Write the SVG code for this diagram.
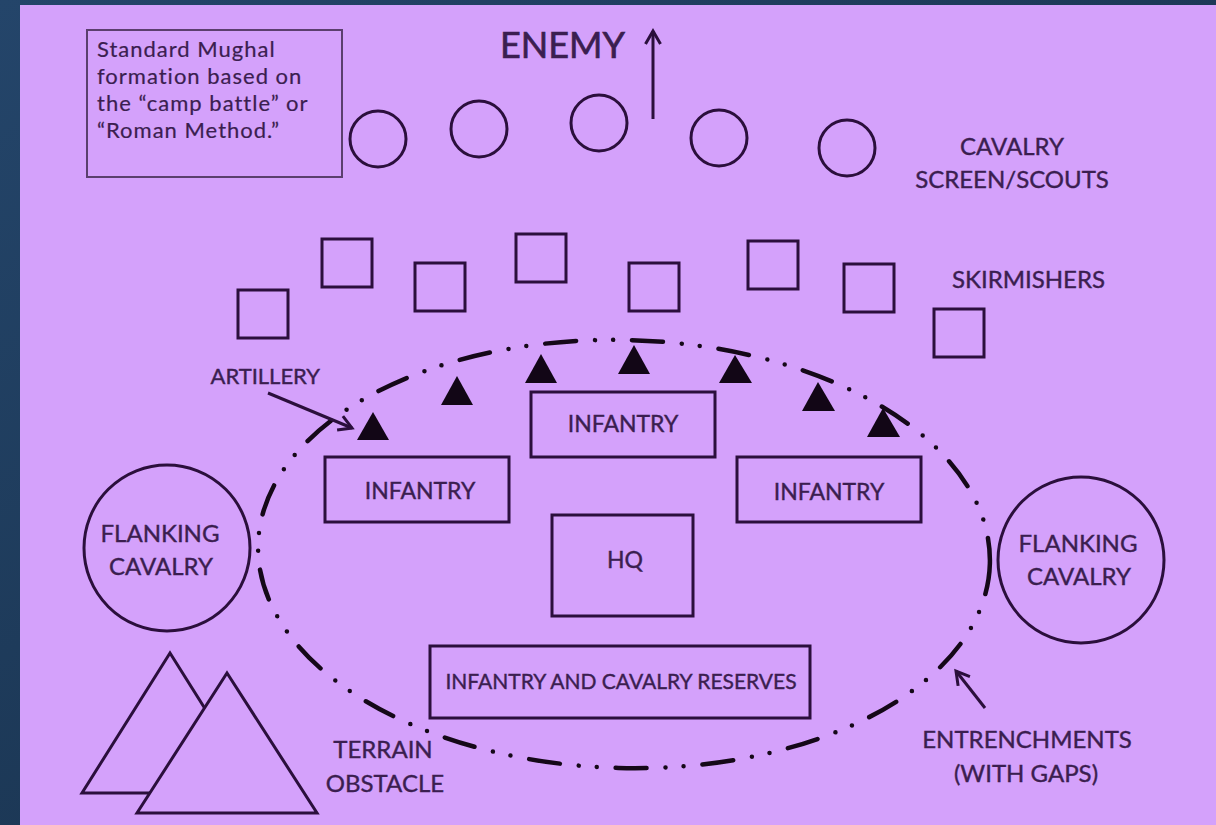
<svg xmlns="http://www.w3.org/2000/svg" width="1216" height="825" viewBox="0 0 1216 825">
<defs>
<linearGradient id="bg" x1="0" y1="0" x2="1" y2="1">
<stop offset="0" stop-color="#24456a"/>
<stop offset="1" stop-color="#152c44"/>
</linearGradient>
<marker id="ah" markerUnits="userSpaceOnUse" markerWidth="24" markerHeight="24" refX="16" refY="12" orient="auto" viewBox="0 0 24 24">
<path d="M3,4.5 L16,12 L3,19.5" fill="none" stroke="#2b0f3c" stroke-width="3"/>
</marker>
</defs>
<style>
.t{font-family:Lato,'Open Sans','Liberation Sans',sans-serif;fill:#3b1e50;stroke:#3b1e50;stroke-width:0.4;font-size:24px}
.c{text-anchor:middle}
.s{fill:none;stroke:#2b0f3c;stroke-width:3}
.sf{fill:#d4a1fb;stroke:#2b0f3c;stroke-width:3}
.tri{fill:#120616}
.ent{fill:none;stroke:#150818;stroke-width:4.5;stroke-linecap:round;stroke-dasharray:31 19 0 18 0 19}
.ar{fill:none;stroke:#2b0f3c;stroke-width:3;marker-end:url(#ah)}
</style>
<rect width="1216" height="825" fill="url(#bg)"/>
<rect x="20" y="5" width="1196" height="820" fill="#d4a1fb"/>

<g id="note">
<rect x="87" y="30" width="255" height="147" fill="none" stroke="#5b3f6e" stroke-width="2"/>
<text class="t" x="97" y="57" style="font-size:22px;letter-spacing:1px;stroke-width:0.2">Standard Mughal</text>
<text class="t" x="97" y="84" style="font-size:22px;letter-spacing:1px;stroke-width:0.2">formation based on</text>
<text class="t" x="97" y="111" style="font-size:22px;letter-spacing:1px;stroke-width:0.2">the “camp battle” or</text>
<text class="t" x="97" y="138" style="font-size:22px;letter-spacing:1px;stroke-width:0.2">“Roman Method.”</text>
</g>

<g id="enemy">
<text class="t" x="500" y="58" style="font-size:36px;stroke-width:0.7">ENEMY</text>
</g>

<g id="cavalry-screen">
<circle class="s" cx="378" cy="139" r="28"/>
<circle class="s" cx="479" cy="129" r="28"/>
<circle class="s" cx="599" cy="123" r="28"/>
<circle class="s" cx="719" cy="138" r="28"/>
<circle class="s" cx="847" cy="148" r="28"/>
<text class="t c" x="1012" y="155">CAVALRY</text>
<text class="t c" x="1012" y="188">SCREEN/SCOUTS</text>
</g>

<g id="skirmishers">
<rect class="s" x="238" y="290" width="50" height="48"/>
<rect class="s" x="322" y="239" width="50" height="48"/>
<rect class="s" x="415" y="263" width="50" height="48"/>
<rect class="s" x="516" y="234" width="50" height="48"/>
<rect class="s" x="629" y="263" width="50" height="48"/>
<rect class="s" x="748" y="241" width="50" height="48"/>
<rect class="s" x="844" y="264" width="50" height="48"/>
<rect class="s" x="934" y="309" width="50" height="48"/>
<text class="t" x="952" y="288">SKIRMISHERS</text>
</g>

<g id="entrenchments">
<ellipse class="ent" cx="624" cy="554" rx="366" ry="214" transform="rotate(1.5 624 554)"/>
<text class="t c" x="1027" y="748">ENTRENCHMENTS</text>
<text class="t c" x="1026" y="782">(WITH GAPS)</text>
</g>

<g id="artillery">
<polygon class="tri" points="373,412 357,440 389,440"/>
<polygon class="tri" points="457,376 441,405 473,405"/>
<polygon class="tri" points="541,354 525,383 557,383"/>
<polygon class="tri" points="634,345 618,374 650,374"/>
<polygon class="tri" points="735,355 719,383 752,383"/>
<polygon class="tri" points="818,382 802,411 835,411"/>
<polygon class="tri" points="883,408 867,437 900,437"/>
<text class="t" x="320" y="384" text-anchor="end" style="font-size:22px">ARTILLERY</text>
</g>

<g id="infantry-center">
<rect class="s" x="531" y="392" width="184" height="65"/>
<text class="t c" x="623" y="432" style="font-size:23px">INFANTRY</text>
</g>
<g id="infantry-left">
<rect class="s" x="325" y="457" width="184" height="65"/>
<text class="t c" x="420" y="499" style="font-size:23px">INFANTRY</text>
</g>
<g id="infantry-right">
<rect class="s" x="737" y="457" width="184" height="65"/>
<text class="t c" x="829" y="500" style="font-size:23px">INFANTRY</text>
</g>

<g id="hq">
<rect class="s" x="552" y="515" width="141" height="101"/>
<text class="t c" x="625" y="568" style="font-size:23px">HQ</text>
</g>

<g id="reserves">
<rect class="s" x="430" y="646" width="380" height="72"/>
<text class="t c" x="621" y="689" style="font-size:21px">INFANTRY AND CAVALRY RESERVES</text>
</g>

<g id="flank-left">
<circle class="s" cx="167" cy="548" r="83"/>
<text class="t c" x="160" y="542">FLANKING</text>
<text class="t c" x="161" y="575">CAVALRY</text>
</g>
<g id="flank-right">
<circle class="s" cx="1081" cy="560" r="83"/>
<text class="t c" x="1078" y="552">FLANKING</text>
<text class="t c" x="1079" y="585">CAVALRY</text>
</g>

<g id="terrain">
<polygon class="sf" points="170,653 258,793 82,793"/>
<polygon class="sf" points="227,673 317,813 137,813"/>
<text class="t c" x="383" y="758">TERRAIN</text>
<text class="t c" x="385" y="792">OBSTACLE</text>
</g>

<g id="connectors">
<line class="ar" x1="653" y1="119" x2="653" y2="31"/>
<line class="ar" x1="268" y1="393" x2="352" y2="428"/>
<line class="ar" x1="985" y1="708" x2="956" y2="671"/>
</g>
</svg>
